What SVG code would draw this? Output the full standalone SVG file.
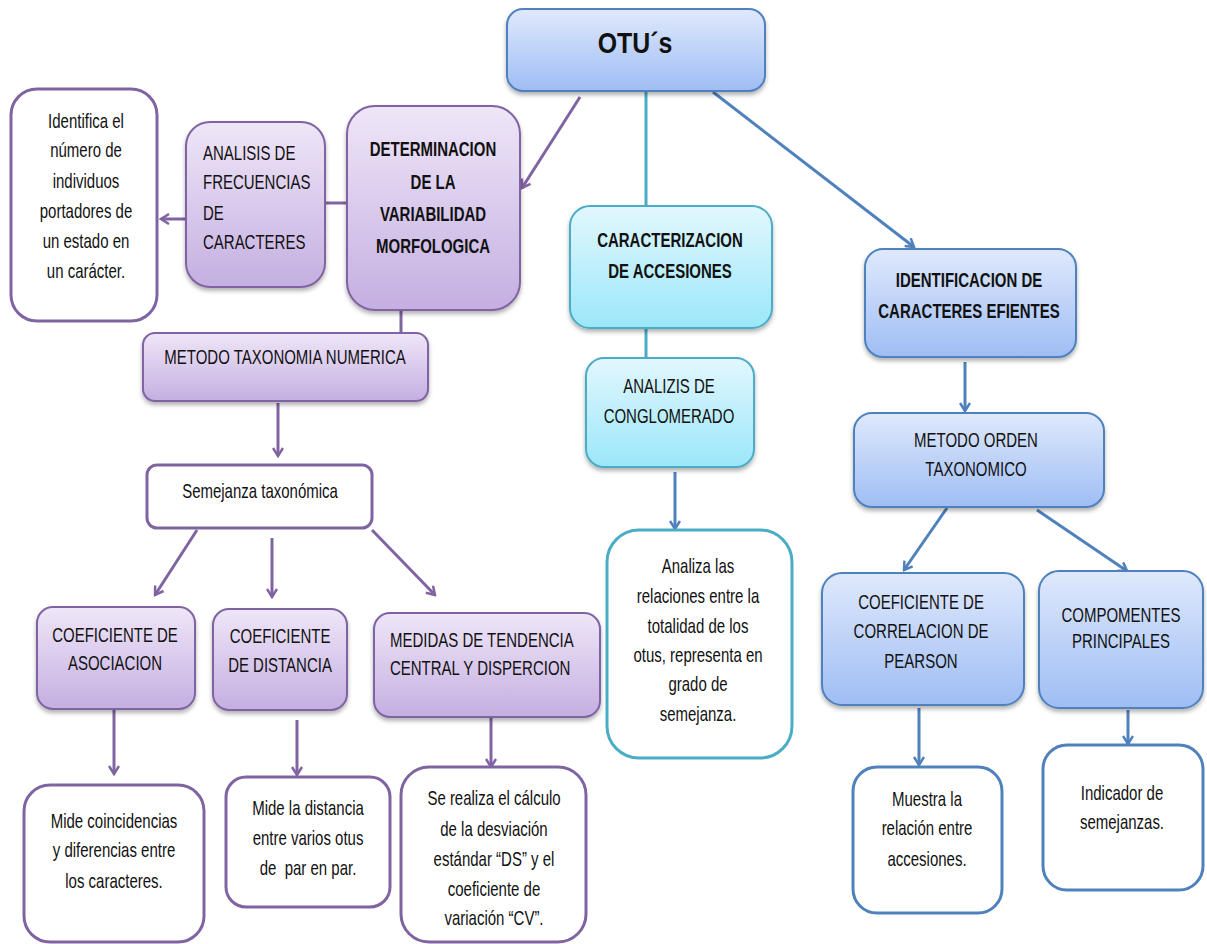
<svg xmlns="http://www.w3.org/2000/svg" width="1207" height="944" viewBox="0 0 1207 944">
<defs>
<linearGradient id="gP" x1="0" y1="0" x2="0" y2="1"><stop offset="0" stop-color="#efe6f8"/><stop offset="1" stop-color="#c4afe1"/></linearGradient>
<linearGradient id="gB" x1="0" y1="0" x2="0" y2="1"><stop offset="0" stop-color="#dfe9fc"/><stop offset="1" stop-color="#9fbdf4"/></linearGradient>
<linearGradient id="gC" x1="0" y1="0" x2="0" y2="1"><stop offset="0" stop-color="#e2f7fd"/><stop offset="1" stop-color="#9be7fa"/></linearGradient>
<filter id="sh" x="-10%" y="-10%" width="125%" height="130%"><feDropShadow dx="0" dy="3" stdDeviation="2" flood-color="#000" flood-opacity="0.3"/></filter>
<marker id="aP" viewBox="0 0 12 12" refX="10" refY="6" markerWidth="12" markerHeight="12" markerUnits="userSpaceOnUse" orient="auto"><path d="M2,1 L10,6 L2,11" fill="none" stroke="#8064a2" stroke-width="2.5"/></marker>
<marker id="aB" viewBox="0 0 12 12" refX="10" refY="6" markerWidth="12" markerHeight="12" markerUnits="userSpaceOnUse" orient="auto"><path d="M2,1 L10,6 L2,11" fill="none" stroke="#4f81bd" stroke-width="2.5"/></marker>
</defs>
<style>
text{font-family:"Liberation Sans",Arial,sans-serif;font-size:20px;fill:#111;transform-box:fill-box;transform-origin:50% 50%;transform:scaleX(0.75)}
.b{font-weight:bold}
.m{text-anchor:middle}
.l{transform-origin:0% 50%}
.p{fill:url(#gP);stroke:#8064a2;stroke-width:2;filter:url(#sh)}
.bl{fill:url(#gB);stroke:#4f81bd;stroke-width:2;filter:url(#sh)}
.c{fill:url(#gC);stroke:#4bacc6;stroke-width:2;filter:url(#sh)}
.wp{fill:#fff;stroke:#8064a2;stroke-width:3}
.wb{fill:#fff;stroke:#4f81bd;stroke-width:3}
.wc{fill:#fff;stroke:#4bacc6;stroke-width:3}
.lp{stroke:#8064a2;stroke-width:3;fill:none}
.lb{stroke:#4f81bd;stroke-width:3;fill:none}
.lc{stroke:#4bacc6;stroke-width:3;fill:none}
</style>
<rect width="1207" height="944" fill="#fff"/>
<g id="connectors">
<line class="lp" x1="580" y1="97" x2="522" y2="188" marker-end="url(#aP)"/>
<line class="lp" x1="325" y1="203" x2="347" y2="203"/>
<line class="lp" x1="186" y1="219" x2="161" y2="219" marker-end="url(#aP)"/>
<line class="lp" x1="401" y1="310" x2="401" y2="333"/>
<line class="lp" x1="278" y1="403" x2="278" y2="456" marker-end="url(#aP)"/>
<line class="lp" x1="197" y1="530" x2="155" y2="595" marker-end="url(#aP)"/>
<line class="lp" x1="272" y1="538" x2="272" y2="597" marker-end="url(#aP)"/>
<line class="lp" x1="372" y1="530" x2="435" y2="595" marker-end="url(#aP)"/>
<line class="lp" x1="114" y1="709" x2="114" y2="774" marker-end="url(#aP)"/>
<line class="lp" x1="297" y1="720" x2="297" y2="775" marker-end="url(#aP)"/>
<line class="lp" x1="491" y1="714" x2="491" y2="767" marker-end="url(#aP)"/>
<line class="lc" x1="646" y1="91" x2="646" y2="206"/>
<line class="lc" x1="646" y1="328" x2="646" y2="358"/>
<line class="lb" x1="675" y1="472" x2="675" y2="529" marker-end="url(#aB)"/>
<line class="lb" x1="713" y1="92" x2="914" y2="247" marker-end="url(#aB)"/>
<line class="lb" x1="965" y1="362" x2="965" y2="411" marker-end="url(#aB)"/>
<line class="lb" x1="947" y1="508" x2="904" y2="570" marker-end="url(#aB)"/>
<line class="lb" x1="1037" y1="510" x2="1127" y2="571" marker-end="url(#aB)"/>
<line class="lb" x1="919" y1="708" x2="919" y2="765" marker-end="url(#aB)"/>
<line class="lb" x1="1128" y1="710" x2="1128" y2="744" marker-end="url(#aB)"/>
</g>
<g id="otus"><rect class="bl" x="507" y="9" width="258" height="82" rx="16"/><text class="b m" x="635" y="53" style="font-size:30px;transform:scaleX(0.83)">OTU´s</text></g>
<g id="determinacion"><rect class="p" x="347" y="106" width="173" height="204" rx="28"/>
<text class="b m" x="433" y="156">DETERMINACION</text><text class="b m" x="433" y="189">DE LA</text><text class="b m" x="433" y="221">VARIABILIDAD</text><text class="b m" x="433" y="253">MORFOLOGICA</text></g>
<g id="analisis"><rect class="p" x="186" y="122" width="139" height="165" rx="24"/>
<text class="l" x="203" y="160">ANALISIS DE</text><text class="l" x="203" y="189">FRECUENCIAS</text><text class="l" x="203" y="220">DE</text><text class="l" x="203" y="249">CARACTERES</text></g>
<g id="identifica"><rect class="wp" x="11" y="89" width="146" height="232" rx="26"/>
<text class="m" x="86" y="128">Identifica el</text><text class="m" x="86" y="157">número de</text><text class="m" x="86" y="188">individuos</text><text class="m" x="86" y="218">portadores de</text><text class="m" x="86" y="248">un estado en</text><text class="m" x="86" y="278">un carácter.</text></g>
<g id="metodo-num"><rect class="p" x="143" y="333" width="285" height="68" rx="12"/><text class="m" x="285" y="364">METODO TAXONOMIA NUMERICA</text></g>
<g id="semejanza"><rect class="wp" x="147" y="465" width="225" height="63" rx="10"/><text class="m" x="260" y="498">Semejanza taxonómica</text></g>
<g id="coef-asoc"><rect class="p" x="37" y="607" width="158" height="102" rx="16"/><text class="m" x="115" y="642">COEFICIENTE DE</text><text class="m" x="115" y="670">ASOCIACION</text></g>
<g id="coef-dist"><rect class="p" x="213" y="609" width="134" height="101" rx="16"/><text class="m" x="280" y="643">COEFICIENTE</text><text class="m" x="280" y="672">DE DISTANCIA</text></g>
<g id="medidas"><rect class="p" x="374" y="613" width="226" height="104" rx="16"/><text class="l" x="390" y="647">MEDIDAS DE TENDENCIA</text><text class="l" x="390" y="675">CENTRAL Y DISPERCION</text></g>
<g id="mide-coin"><rect class="wp" x="24" y="785" width="180" height="157" rx="26"/>
<text class="m" x="114" y="828">Mide coincidencias</text><text class="m" x="114" y="857">y diferencias entre</text><text class="m" x="114" y="888">los caracteres.</text></g>
<g id="mide-dist"><rect class="wp" x="226" y="777" width="164" height="130" rx="20"/>
<text class="m" x="308" y="815">Mide la distancia</text><text class="m" x="308" y="845">entre varios otus</text><text class="m" x="308" y="875" xml:space="preserve">de  par en par.</text></g>
<g id="se-realiza"><rect class="wp" x="401" y="767" width="185" height="175" rx="28"/>
<text class="m" x="494" y="805">Se realiza el cálculo</text><text class="m" x="494" y="836">de la desviación</text><text class="m" x="494" y="866">estándar “DS” y el</text><text class="m" x="494" y="896">coeficiente de</text><text class="m" x="494" y="925">variación “CV”.</text></g>
<g id="caracterizacion"><rect class="c" x="570" y="206" width="202" height="122" rx="20"/><text class="b m" x="670" y="247">CARACTERIZACION</text><text class="b m" x="670" y="278">DE ACCESIONES</text></g>
<g id="analizis"><rect class="c" x="586" y="358" width="168" height="109" rx="18"/><text class="m" x="669" y="393">ANALIZIS DE</text><text class="m" x="669" y="423">CONGLOMERADO</text></g>
<g id="analiza"><rect class="wc" x="607" y="530" width="185" height="228" rx="32"/>
<text class="m" x="698" y="573">Analiza las</text><text class="m" x="698" y="603">relaciones entre la</text><text class="m" x="698" y="633">totalidad de los</text><text class="m" x="698" y="662">otus, representa en</text><text class="m" x="698" y="691">grado de</text><text class="m" x="698" y="721">semejanza.</text></g>
<g id="identificacion"><rect class="bl" x="865" y="249" width="211" height="108" rx="18"/><text class="b m" x="969" y="287">IDENTIFICACION DE</text><text class="b m" x="969" y="318">CARACTERES EFIENTES</text></g>
<g id="metodo-orden"><rect class="bl" x="854" y="413" width="250" height="94" rx="18"/><text class="m" x="976" y="447">METODO ORDEN</text><text class="m" x="976" y="476">TAXONOMICO</text></g>
<g id="pearson"><rect class="bl" x="822" y="573" width="202" height="132" rx="20"/><text class="m" x="921" y="609">COEFICIENTE DE</text><text class="m" x="921" y="638">CORRELACION DE</text><text class="m" x="921" y="668">PEARSON</text></g>
<g id="componentes"><rect class="bl" x="1039" y="571" width="164" height="137" rx="20"/><text class="m" x="1121" y="622">COMPOMENTES</text><text class="m" x="1121" y="648">PRINCIPALES</text></g>
<g id="muestra"><rect class="wb" x="853" y="767" width="149" height="146" rx="24"/><text class="m" x="927" y="806">Muestra la</text><text class="m" x="927" y="835">relación entre</text><text class="m" x="927" y="866">accesiones.</text></g>
<g id="indicador"><rect class="wb" x="1043" y="745" width="160" height="145" rx="24"/><text class="m" x="1122" y="800">Indicador de</text><text class="m" x="1122" y="829">semejanzas.</text></g>
</svg>
